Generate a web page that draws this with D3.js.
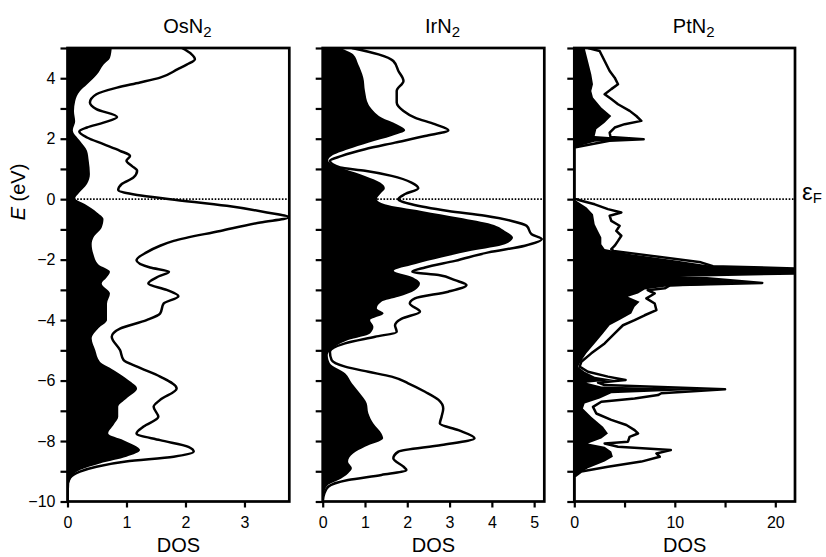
<!DOCTYPE html>
<html>
<head>
<meta charset="utf-8">
<script src="https://cdn.jsdelivr.net/npm/d3@7"></script>
<style>
  body { margin: 0; background: #fff; }
  text { font-family: "Liberation Sans", Arial, sans-serif; }
</style>
</head>
<body>
<svg width="826" height="557"></svg>
<script>
const width = 826;
const height = 557;

// [energy (eV), DOS] pairs, top (5 eV) to bottom (-10 eV)
const osN2Total = [[5.0,1.94],[4.8,2.1],[4.63,2.16],[4.45,2.02],[4.3,1.87],[4.02,1.57],[3.86,1.23],[3.69,0.84],[3.47,0.49],[3.2,0.38],[2.98,0.49],[2.72,0.84],[2.53,0.61],[2.37,0.33],[2.24,0.2],[2.04,0.33],[1.82,0.61],[1.6,0.89],[1.43,1.06],[1.27,1.0],[1.1,1.09],[0.94,1.18],[0.72,1.12],[0.5,0.92],[0.3,0.86],[0.14,1.18],[0.0,1.74],[-0.22,2.7],[-0.44,3.38],[-0.6,3.75],[-0.77,3.27],[-1.05,2.59],[-1.38,1.8],[-1.54,1.57],[-1.76,1.34],[-2.02,1.17],[-2.26,1.4],[-2.4,1.72],[-2.55,1.55],[-2.79,1.37],[-3.0,1.68],[-3.21,1.88],[-3.45,1.63],[-3.78,1.57],[-4.0,1.34],[-4.28,0.89],[-4.55,0.75],[-4.99,0.89],[-5.32,0.95],[-5.54,1.18],[-5.87,1.57],[-6.26,1.85],[-6.64,1.57],[-6.87,1.46],[-7.2,1.54],[-7.52,1.29],[-7.75,1.17],[-7.97,1.57],[-8.19,2.05],[-8.35,2.14],[-8.52,1.8],[-8.68,0.99],[-8.85,0.49],[-9.01,0.21],[-9.23,0.04],[-9.5,0.0],[-10,0.0]];
const osN2Metal = [[5.0,0.75],[4.67,0.72],[4.45,0.61],[4.12,0.5],[3.79,0.33],[3.57,0.21],[3.24,0.13],[2.91,0.11],[2.58,0.13],[2.28,0.09],[1.93,0.21],[1.6,0.33],[1.27,0.36],[0.83,0.38],[0.5,0.33],[0.17,0.18],[0.03,0.13],[-0.17,0.3],[-0.44,0.5],[-0.66,0.61],[-0.94,0.58],[-1.27,0.44],[-1.49,0.41],[-1.82,0.44],[-2.15,0.52],[-2.4,0.72],[-2.6,0.66],[-2.79,0.58],[-3.12,0.72],[-3.45,0.67],[-4.0,0.67],[-4.28,0.52],[-4.61,0.41],[-4.99,0.47],[-5.38,0.55],[-5.65,0.78],[-5.98,1.03],[-6.26,1.18],[-6.59,1.0],[-6.87,0.86],[-7.2,0.86],[-7.47,0.78],[-7.75,0.69],[-7.97,0.95],[-8.3,1.23],[-8.52,1.0],[-8.74,0.55],[-8.96,0.21],[-9.18,0.07],[-9.4,0.03],[-10,0.02]];

const irN2Total = [[5.0,0.69],[4.79,1.32],[4.57,1.67],[4.24,1.79],[3.91,1.91],[3.58,1.75],[3.2,1.75],[2.92,1.91],[2.7,2.18],[2.48,2.65],[2.28,2.97],[2.09,2.42],[1.87,1.71],[1.65,1.0],[1.43,0.45],[1.27,0.17],[1.05,0.41],[0.94,1.0],[0.77,1.63],[0.55,2.1],[0.36,2.26],[0.17,1.95],[0.0,1.79],[-0.17,2.1],[-0.39,2.97],[-0.55,3.84],[-0.72,4.47],[-0.88,4.82],[-1.16,4.94],[-1.32,5.18],[-1.54,4.78],[-1.76,3.92],[-2.04,3.13],[-2.26,2.42],[-2.4,2.12],[-2.51,2.74],[-2.68,3.13],[-2.84,3.4],[-3.06,2.97],[-3.28,2.18],[-3.45,2.06],[-3.72,2.3],[-3.95,1.87],[-4.17,1.71],[-4.39,1.75],[-4.55,1.24],[-4.77,0.53],[-5.05,0.17],[-5.32,0.21],[-5.54,0.53],[-5.71,1.08],[-5.87,1.63],[-6.09,2.02],[-6.37,2.42],[-6.64,2.74],[-6.92,2.85],[-7.2,2.81],[-7.42,2.77],[-7.64,3.21],[-7.91,3.59],[-8.13,2.81],[-8.35,1.79],[-8.57,1.67],[-8.85,1.91],[-8.96,1.98],[-9.12,1.39],[-9.29,0.6],[-9.51,0.13],[-9.73,0.04],[-10,0.0]];
const irN2Metal = [[5.0,0.41],[4.79,0.72],[4.46,0.84],[4.02,0.96],[3.58,1.0],[3.14,1.08],[2.92,1.2],[2.7,1.39],[2.48,1.75],[2.28,1.95],[2.09,1.63],[1.87,1.08],[1.65,0.6],[1.43,0.21],[1.29,0.13],[1.1,0.29],[0.99,0.53],[0.77,1.0],[0.55,1.36],[0.36,1.47],[0.17,1.36],[0.0,1.28],[-0.17,1.47],[-0.39,2.34],[-0.61,3.21],[-0.83,3.99],[-1.05,4.31],[-1.27,4.5],[-1.49,4.31],[-1.71,3.52],[-1.93,2.81],[-2.15,2.18],[-2.37,1.68],[-2.57,2.1],[-2.79,2.3],[-3.01,2.18],[-3.23,1.79],[-3.39,1.39],[-3.61,1.28],[-3.78,1.44],[-4.0,1.12],[-4.22,1.2],[-4.44,1.12],[-4.66,0.6],[-4.88,0.29],[-5.16,0.12],[-5.43,0.17],[-5.76,0.53],[-6.09,0.69],[-6.42,0.88],[-6.75,1.04],[-7.08,1.08],[-7.42,1.2],[-7.75,1.39],[-7.91,1.43],[-8.19,1.0],[-8.41,0.72],[-8.68,0.6],[-8.9,0.69],[-9.07,0.6],[-9.29,0.37],[-9.45,0.13],[-9.67,0.04],[-10,0.0]];

const ptN2Total = [[5.0,1.36],[4.9,2.52],[4.57,3.02],[4.24,3.52],[4.02,4.02],[3.8,4.35],[3.64,3.68],[3.47,3.02],[3.31,3.68],[3.14,4.35],[2.92,5.51],[2.75,6.17],[2.59,6.67],[2.48,5.01],[2.37,4.02],[2.2,3.52],[2.06,3.6],[1.98,6.9],[1.93,3.5],[1.71,0.0],[0.02,0.0],[-0.05,0.7],[-0.17,2.03],[-0.33,3.35],[-0.44,4.68],[-0.55,3.52],[-0.72,3.68],[-0.88,4.51],[-1.05,4.18],[-1.21,4.68],[-1.38,4.35],[-1.54,4.02],[-1.65,3.68],[-1.71,3.9],[-2.09,12.6],[-2.22,13.8],[-2.3,23],[-2.45,23],[-2.53,10.3],[-2.77,18.7],[-2.85,9.5],[-2.95,9.0],[-3.01,7.3],[-3.12,8.0],[-3.28,7.17],[-3.45,8.0],[-3.67,8.17],[-3.84,7.0],[-4.0,6.0],[-4.17,4.84],[-4.44,4.02],[-4.77,3.02],[-5.1,1.69],[-5.38,0.7],[-5.54,0.53],[-5.71,1.36],[-5.87,3.35],[-5.98,5.1],[-6.07,2.36],[-6.15,3.0],[-6.29,15.0],[-6.42,8.66],[-6.48,8.33],[-6.59,6.0],[-6.7,2.69],[-6.87,1.86],[-7.09,2.19],[-7.3,3.68],[-7.47,5.18],[-7.64,6.0],[-7.75,6.34],[-7.86,5.5],[-8.02,5.34],[-8.08,3.02],[-8.19,4.35],[-8.3,9.6],[-8.41,8.17],[-8.52,8.5],[-8.68,6.67],[-8.85,3.35],[-9.01,0.7],[-9.18,0.0],[-10,0.0]];
const ptN2Metal = [[5.0,1.03],[4.57,1.36],[4.13,1.69],[3.8,1.86],[3.58,1.69],[3.36,1.86],[3.03,2.69],[2.75,3.68],[2.53,3.02],[2.31,2.19],[2.09,2.03],[1.98,6.6],[1.9,2.0],[1.71,0.0],[0.0,0.0],[-0.05,0.2],[-0.27,1.2],[-0.5,1.86],[-0.83,2.03],[-1.05,2.36],[-1.27,2.69],[-1.49,2.69],[-1.65,3.02],[-1.82,5.67],[-2.04,10.3],[-2.2,13.6],[-2.3,23],[-2.45,23],[-2.55,10.3],[-2.77,18.0],[-2.9,9.0],[-2.99,7.0],[-3.12,6.34],[-3.23,5.34],[-3.39,6.5],[-3.56,6.0],[-3.78,5.67],[-4.0,4.51],[-4.17,3.52],[-4.44,2.86],[-4.77,2.03],[-5.1,1.2],[-5.38,0.63],[-5.54,0.37],[-5.71,1.03],[-5.87,2.03],[-5.98,4.0],[-6.07,1.2],[-6.2,2.69],[-6.29,14.0],[-6.42,3.68],[-6.59,2.53],[-6.76,1.03],[-6.92,0.86],[-7.2,1.69],[-7.53,2.86],[-7.75,3.35],[-7.92,2.69],[-8.08,1.36],[-8.19,3.02],[-8.35,3.68],[-8.52,3.84],[-8.68,3.02],[-8.9,1.36],[-9.12,0.2],[-9.2,0.0],[-10,0.0]];

const energyTicks = d3.range(-10, 6, 1);
const energyLabels = [-10, -8, -6, -4, -2, 0, 2, 4];

const compounds = ["Os", "Ir", "Pt"];
const dosMax = [3.76, 5.24, 21.96];
const dosTicks = [[0, 1, 2, 3], [0, 1, 2, 3, 4, 5], [0, 5, 10, 15, 20]];
const dosLabels = [[0, 1, 2, 3], [0, 1, 2, 3, 4, 5], [0, 10, 20]];
const totals = [osN2Total, irN2Total, ptN2Total];
const metals = [osN2Metal, irN2Metal, ptN2Metal];

// panel placement (pixels)
const panelLeft = [67.5, 322.7, 574.3];
const panelRight = [289.3, 544.3, 795];
const plotTop = 48, plotBottom = 501.5;

const svg = d3.select("svg")
    .attr("viewBox", `0 0 ${width} ${height}`);

const y = d3.scaleLinear().domain([-10, 5]).range([plotBottom, plotTop]);

compounds.forEach(function(name, i) {
    const x = d3.scaleLinear().domain([0, dosMax[i]]).range([panelLeft[i], panelRight[i]]);
    const curve = i < 2 ? d3.curveMonotoneY : d3.curveLinear;

    const clipId = "clip" + i;
    svg.append("clipPath").attr("id", clipId)
        .append("rect")
        .attr("x", panelLeft[i]).attr("y", plotTop)
        .attr("width", panelRight[i] - panelLeft[i]).attr("height", plotBottom - plotTop);

    const g = svg.append("g").attr("clip-path", `url(#${clipId})`);

    // metal partial DOS, filled black
    const area = d3.area()
        .y(d => y(d[0]))
        .x0(x(0))
        .x1(d => x(d[1]))
        .curve(curve);
    g.append("path").datum(metals[i])
        .attr("d", area)
        .attr("fill", "#000");

    // Fermi level
    g.append("line")
        .attr("x1", panelLeft[i]).attr("x2", panelRight[i])
        .attr("y1", y(0)).attr("y2", y(0))
        .attr("stroke", "#000")
        .attr("stroke-width", 1.6)
        .attr("stroke-dasharray", "1.6,1.6");

    // total DOS outline
    const line = d3.line()
        .y(d => y(d[0]))
        .x(d => x(d[1]))
        .curve(curve);
    g.append("path").datum(totals[i])
        .attr("d", line)
        .attr("fill", "none")
        .attr("stroke", "#000")
        .attr("stroke-width", 2.5)
        .attr("stroke-linejoin", "round");

    // axes
    const yAxis = d3.axisLeft(y)
        .tickValues(energyTicks)
        .tickSize(7)
        .tickSizeOuter(0)
        .tickPadding(5)
        .tickFormat(d => (i === 0 && energyLabels.includes(d)) ? d3.format("d")(d) : "");
    const ya = svg.append("g")
        .attr("transform", `translate(${panelLeft[i]},0)`)
        .call(yAxis);

    const xAxis = d3.axisBottom(x)
        .tickValues(dosTicks[i])
        .tickSize(6)
        .tickSizeOuter(0)
        .tickPadding(9)
        .tickFormat(d => dosLabels[i].includes(d) ? d : "");
    const xa = svg.append("g")
        .attr("transform", `translate(0,${plotBottom})`)
        .call(xAxis);

    [ya, xa].forEach(function(a) {
        a.select(".domain").remove();
        a.selectAll("line").attr("stroke-width", 2.2);
        a.selectAll("text")
            .attr("font-size", "16px")
            .attr("font-family", "'Liberation Sans', Arial, sans-serif")
            .attr("fill", "#000");
    });

    // frame
    svg.append("rect")
        .attr("x", panelLeft[i]).attr("y", plotTop)
        .attr("width", panelRight[i] - panelLeft[i]).attr("height", plotBottom - plotTop)
        .attr("fill", "none")
        .attr("stroke", "#000")
        .attr("stroke-width", 2.7);

    // panel title
    const mid = (panelLeft[i] + panelRight[i]) / 2;
    const title = svg.append("text")
        .attr("x", mid + 9)
        .attr("y", 33)
        .attr("text-anchor", "middle")
        .attr("font-size", "20px");
    title.append("tspan").text(name + "N");
    title.append("tspan").attr("dy", 4).attr("font-size", "15px").text("2");

    // x label
    svg.append("text")
        .attr("x", mid)
        .attr("y", 552)
        .attr("text-anchor", "middle")
        .attr("font-size", "20px")
        .text("DOS");
});

// y axis label
const ylab = svg.append("text")
    .attr("transform", "translate(25,192) rotate(-90)")
    .attr("text-anchor", "middle")
    .attr("font-size", "20px");
ylab.append("tspan").attr("font-style", "italic").text("E");
ylab.append("tspan").text(" (eV)");

// Fermi level label
const ef = svg.append("text")
    .attr("x", 802)
    .attr("y", 200)
    .attr("font-size", "24px");
ef.append("tspan").text("ε");
ef.append("tspan").attr("dy", 3).attr("font-size", "15px").text("F");
</script>
</body>
</html>
